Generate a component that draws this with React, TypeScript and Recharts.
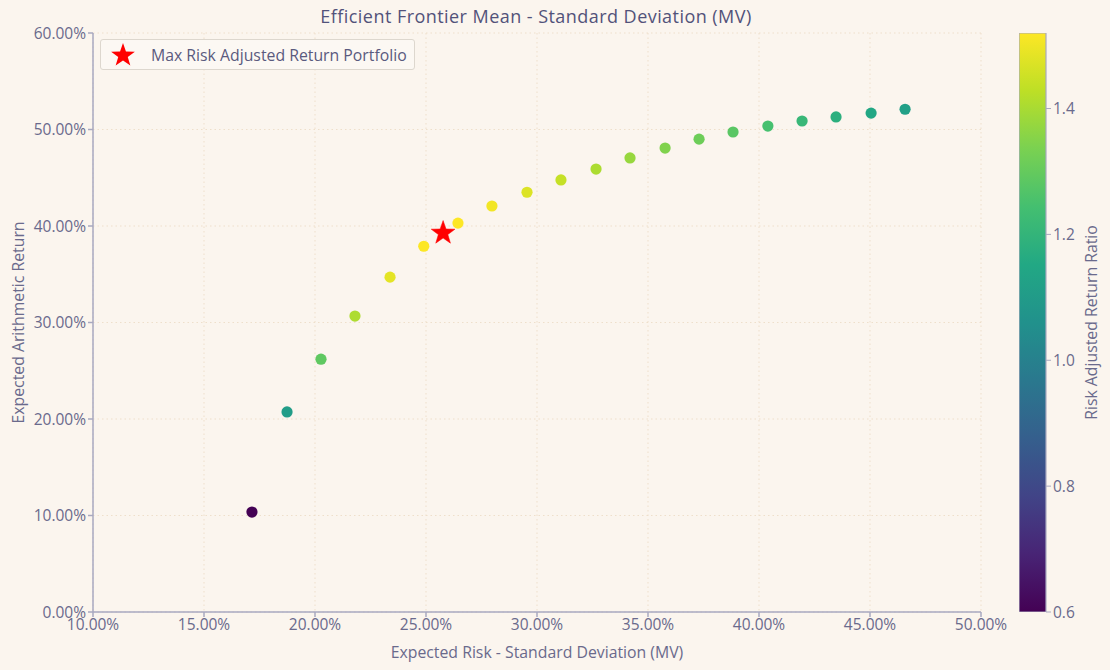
import React from "react";
import {
  ScatterChart,
  Scatter,
  XAxis,
  YAxis,
  CartesianGrid,
  Cell,
  Label,
  ComposedChart,
  Bar,
} from "recharts";

// ---------- data ----------
const riskValues = [17.16, 18.74, 20.27, 21.8, 23.38, 24.9, 26.44, 27.97, 29.55, 31.08, 32.66, 34.19, 35.77, 37.3, 38.83, 40.4, 41.94, 43.47, 45.05, 46.58];
const returnValues = [10.36, 20.73, 26.2, 30.67, 34.7, 37.9, 40.3, 42.07, 43.5, 44.77, 45.9, 47.05, 48.08, 49.0, 49.74, 50.36, 50.88, 51.3, 51.7, 52.1];
const ratioValues = [0.6, 1.106, 1.29, 1.407, 1.484, 1.519, 1.52, 1.504, 1.472, 1.44, 1.405, 1.376, 1.344, 1.314, 1.281, 1.247, 1.213, 1.18, 1.148, 1.119];
const maxRisk = [25.77];
const maxReturn = [39.27];
const xTicks = [10, 15, 20, 25, 30, 35, 40, 45, 50];
const yTicks = [0, 10, 20, 30, 40, 50, 60];
const cbTicks = [0.6, 0.8, 1.0, 1.2, 1.4];
const cbMin = 0.6;
const cbMax = 1.52;

const TITLE = "Efficient Frontier Mean - Standard Deviation (MV)";
const XLABEL = "Expected Risk - Standard Deviation (MV)";
const YLABEL = "Expected Arithmetic Return";
const CBLABEL = "Risk Adjusted Return Ratio";
const LEGEND = "Max Risk Adjusted Return Portfolio";

// ---------- styling ----------
const BG = "#FBF5EE";
const TEXT = "#6A6A8C";
const TITLE_C = "#52527A";
const AXIS = "#A9A9C0";
const GRID = "#EEDFCB";
const FONT = "'Open Sans', 'Noto Sans', sans-serif";
const TICK_FS = 15.5;
const LABEL_FS = 15.8;

const VIRIDIS = ["#440154", "#482475", "#414487", "#355f8d", "#2a788e", "#21918c", "#22a884", "#44bf70", "#7ad151", "#bddf26", "#fde725"];

function hexToRgb(h: string) {
  const n = parseInt(h.slice(1), 16);
  return [(n >> 16) & 255, (n >> 8) & 255, n & 255];
}
function viridis(v: number) {
  let t = (v - cbMin) / (cbMax - cbMin);
  t = Math.max(0, Math.min(1, t));
  const p = t * (VIRIDIS.length - 1);
  const i = Math.min(VIRIDIS.length - 2, Math.floor(p));
  const f = p - i;
  const a = hexToRgb(VIRIDIS[i]);
  const b = hexToRgb(VIRIDIS[i + 1]);
  const c = a.map((x, k) => Math.round(x + (b[k] - x) * f));
  return `rgb(${c[0]},${c[1]},${c[2]})`;
}

const frontier = riskValues.map((r, i) => ({ risk: r, ret: returnValues[i], ratio: ratioValues[i] }));
const maxPoint = maxRisk.map((r, i) => ({ risk: r, ret: maxReturn[i] }));
const cbData = [{ name: "cb", range: [cbMin, cbMax] }];

function starPoints(cx: number, cy: number, R: number, r: number) {
  const pts: string[] = [];
  for (let k = 0; k < 10; k++) {
    const ang = -Math.PI / 2 + (k * Math.PI) / 5;
    const rad = k % 2 === 0 ? R : r;
    pts.push(`${cx + rad * Math.cos(ang)},${cy + rad * Math.sin(ang)}`);
  }
  return pts.join(" ");
}

const StarShape = (props: any) => {
  const { cx, cy } = props;
  if (cx == null || cy == null) return null;
  return <polygon points={starPoints(cx, cy, 12.5, 5)} fill="#FF0000" stroke="#FF0000" strokeWidth={0.5} />;
};

const DotShape = (props: any) => {
  const { cx, cy, fill } = props;
  if (cx == null || cy == null) return null;
  return <circle cx={cx} cy={cy} r={5.6} fill={fill} />;
};

const pct = (v: number) => `${v.toFixed(2)}%`;

const LegendBox = () => (
  <div
    style={{
      position: "absolute",
      left: 100,
      top: 39,
      display: "flex",
      alignItems: "center",
      height: 31,
      boxSizing: "border-box",
      padding: "0 7px 0 8px",
      background: "#FCF8F3",
      border: "1px solid #DDD7CE",
      borderRadius: 3,
      fontFamily: FONT,
      fontSize: LABEL_FS,
      color: "#5A5A7E",
      whiteSpace: "nowrap",
    }}
  >
    <svg width={28} height={26} style={{ marginRight: 14 }}>
      <polygon points={starPoints(14, 13.5, 12.5, 5)} fill="#FF0000" />
    </svg>
    {LEGEND}
  </div>
);

export default function App() {
  return (
    <div style={{ position: "absolute", left: 0, top: 0, width: 1110, height: 670, background: BG, overflow: "hidden" }}>
      <div
        style={{
          position: "absolute",
          left: 0,
          top: 4,
          width: 1072,
          textAlign: "center",
          fontFamily: FONT,
          fontSize: 18,
          letterSpacing: 0.45,
          color: TITLE_C,
        }}
      >
        {TITLE}
      </div>
      <div style={{ position: "absolute", left: 0, top: 0 }}>
        <ScatterChart width={1110} height={670} margin={{ top: 33, right: 129, left: 0, bottom: 0 }}>
          <CartesianGrid stroke={GRID} strokeDasharray="1.5 3" strokeWidth={1} />
          <XAxis
            type="number"
            dataKey="risk"
            domain={[10, 50]}
            ticks={xTicks}
            tickFormatter={pct}
            height={58}
            allowDataOverflow
            stroke={AXIS}
            strokeWidth={1.5}
            tickSize={5}
            tick={{ fill: TEXT, fontSize: TICK_FS, fontFamily: FONT }}
            interval={0}
          >
            <Label value={XLABEL} position="insideBottom" offset={12} fill={TEXT} fontSize={LABEL_FS} fontFamily={FONT} />
          </XAxis>
          <YAxis
            type="number"
            dataKey="ret"
            domain={[0, 60]}
            ticks={yTicks}
            tickFormatter={pct}
            width={93}
            allowDataOverflow
            stroke={AXIS}
            strokeWidth={1.5}
            tickSize={5}
            tick={{ fill: TEXT, fontSize: TICK_FS, fontFamily: FONT }}
            interval={0}
          >
            <Label
              content={(p: any) => {
                const vb = p.viewBox || { x: 0, y: 33, width: 93, height: 579 };
                const x = vb.x + 18;
                const y = vb.y + vb.height / 2;
                return (
                  <text x={x} y={y} transform={`rotate(-90 ${x} ${y})`} textAnchor="middle" dominantBaseline="central" fill={TEXT} fontSize={LABEL_FS} fontFamily={FONT}>
                    {YLABEL}
                  </text>
                );
              }}
            />
          </YAxis>
          <Scatter data={frontier} shape={DotShape} isAnimationActive={false} legendType="none">
            {frontier.map((d, i) => (
              <Cell key={i} fill={viridis(d.ratio)} />
            ))}
          </Scatter>
          <Scatter data={maxPoint} shape={StarShape} isAnimationActive={false} name={LEGEND} />
        </ScatterChart>
      </div>
      <LegendBox />
      <div style={{ position: "absolute", left: 1019, top: 0 }}>
        <ComposedChart width={91} height={670} data={cbData} margin={{ top: 33, right: 24, left: 0, bottom: 58 }} barCategoryGap={0}>
          <defs>
            <linearGradient id="viridisGrad" x1="0" y1="1" x2="0" y2="0">
              {VIRIDIS.map((c, i) => (
                <stop key={i} offset={`${(i / (VIRIDIS.length - 1)) * 100}%`} stopColor={c} />
              ))}
            </linearGradient>
          </defs>
          <XAxis dataKey="name" type="category" hide />
          <YAxis
            type="number"
            orientation="right"
            domain={[cbMin, cbMax]}
            ticks={cbTicks}
            tickFormatter={(v: number) => v.toFixed(1)}
            width={40}
            allowDataOverflow
            axisLine={false}
            stroke={AXIS}
            tickSize={5}
            tick={{ fill: TEXT, fontSize: TICK_FS, fontFamily: FONT }}
            interval={0}
          >
            <Label
              content={(p: any) => {
                const vb = p.viewBox || { x: 27, y: 33, width: 40, height: 579 };
                const x = vb.x + 45;
                const y = vb.y + vb.height / 2;
                return (
                  <text x={x} y={y} transform={`rotate(-90 ${x} ${y})`} textAnchor="middle" dominantBaseline="central" fill={TEXT} fontSize={LABEL_FS} fontFamily={FONT}>
                    {CBLABEL}
                  </text>
                );
              }}
            />
          </YAxis>
          <Bar dataKey="range" fill="url(#viridisGrad)" stroke={AXIS} strokeWidth={1.2} isAnimationActive={false} />
        </ComposedChart>
      </div>
    </div>
  );
}
